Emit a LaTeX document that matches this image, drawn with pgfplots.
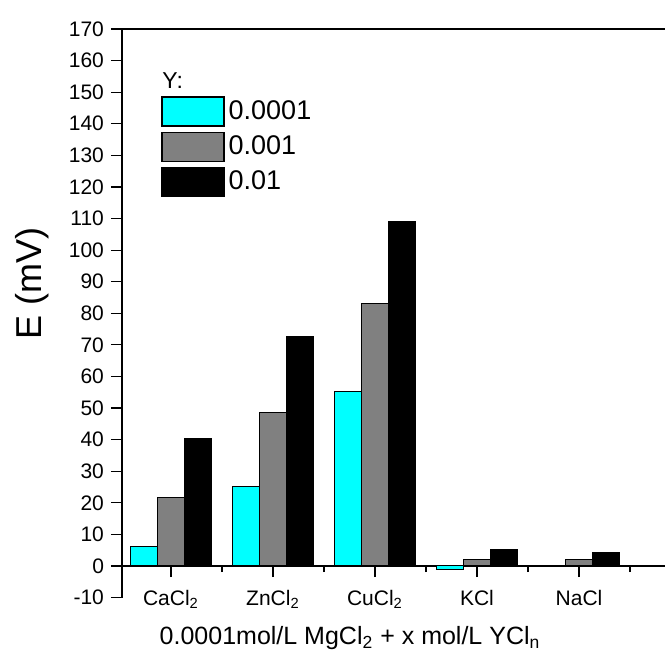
\documentclass[border=0pt]{standalone}
\usepackage{fontspec}
\setmainfont{Liberation Sans}
\usepackage{pgfplots}
\pgfplotsset{compat=1.18}
\definecolor{barcyan}{RGB}{0,255,255}
\definecolor{bargray}{RGB}{128,128,128}
\begin{document}
\begin{tikzpicture}
\begin{axis}[
  name=ax,
  scale only axis,
  width=271.5pt, height=284.3pt,
  xmin=-0.48, xmax=4.843,
  ymin=-10, ymax=170,
  clip=false,
  axis y line*=left,
  axis x line*=middle,
  ytick={-10,0,...,170},
  ytick align=outside,
  ytick style={black, line width=0.6pt},
  major tick length=5.5pt,
  minor tick length=3pt,
  xtick={0,1,2,3,4},
  minor xtick={-0.5,0.5,1.5,2.5,3.5,4.5},
  xtick align=outside,
  xtick style={black, line width=0.6pt},
  xticklabels={CaCl\textsubscript{2},ZnCl\textsubscript{2},CuCl\textsubscript{2},KCl,NaCl},
  xticklabel style={font=\fontsize{10.5}{12}\selectfont, yshift=-3pt},
  yticklabel style={font=\fontsize{10.5}{12}\selectfont},
  /pgf/number format/assume math mode=true,
  axis line style={black, line width=0.7pt},
  xlabel={0.0001mol/L MgCl\textsubscript{2} + x mol/L YCl\textsubscript{n}},
  xlabel style={at={(axis description cs:0.42,0)}, anchor=north, yshift=-11pt, font=\fontsize{12.5}{14}\selectfont},
  ylabel={E (mV)},
  ylabel style={at={(axis description cs:-0.166,0.553)}, anchor=center, rotate=0, font=\fontsize{18}{20}\selectfont},
  ybar=0pt,
  bar width=13.5pt,
  legend style={at={(axis description cs:0.072,0.924)}, anchor=north west, draw=none, fill=none,
    font=\fontsize{13.5}{15}\selectfont, row sep=2.5pt, inner sep=0pt, cells={anchor=west}},
  legend cell align=left,
]
\addlegendimage{legend image code/.code={\node[anchor=west, inner sep=0pt, font=\fontsize{11.5}{13}\selectfont] at (0pt,0pt) {Y:};}}
\addlegendentry{}
\addplot[fill=barcyan, draw=black, line width=0.5pt,
  legend image code/.code={\draw[fill=barcyan, draw=black, line width=0.6pt] (0pt,-7.25pt) rectangle (31pt,7.25pt);}]
  coordinates {(0,6.1) (1,25.3) (2,55.2) (3,-1.0) (4,-0.3)};
\addlegendentry{0.0001}
\addplot[fill=bargray, draw=black, line width=0.5pt,
  legend image code/.code={\draw[fill=bargray, draw=black, line width=0.6pt] (0pt,-7.25pt) rectangle (31pt,7.25pt);}]
  coordinates {(0,21.6) (1,48.5) (2,83.2) (3,2.1) (4,2.0)};
\addlegendentry{0.001}
\addplot[fill=black, draw=black, line width=0.5pt,
  legend image code/.code={\draw[fill=black, draw=black, line width=0.6pt] (0pt,-7.25pt) rectangle (31pt,7.25pt);}]
  coordinates {(0,40.4) (1,72.5) (2,108.9) (3,5.1) (4,4.4)};
\addlegendentry{0.01}
\draw[black, line width=0.7pt] (rel axis cs:0,1) -- (rel axis cs:1,1);
\end{axis}
\pgfresetboundingbox
\path ([xshift=-61pt,yshift=14.5pt]ax.north west) rectangle ([yshift=-29.2pt]ax.south east);
\end{tikzpicture}
\end{document}
